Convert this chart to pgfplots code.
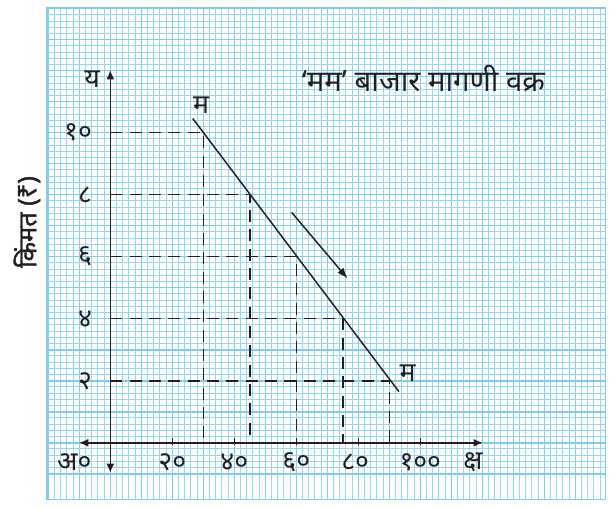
\documentclass[border=0pt]{standalone}
\usepackage{fontspec}
\usepackage{pgfplots}
\pgfplotsset{compat=1.18}
\usetikzlibrary{arrows.meta}
\newfontfamily\deva[Script=Devanagari]{Noto Sans}
\newfontfamily\devab[Script=Devanagari, FakeBold=1.6]{Noto Sans}
\definecolor{gridblue}{RGB}{128,204,240}
\definecolor{gridminor}{RGB}{150,213,243}
\definecolor{ink}{RGB}{35,31,32}
\begin{document}
\begin{tikzpicture}
\begin{axis}[
  scale only axis, width=419pt, height=368.5pt,
  xmin=-20.42, xmax=159.8, ymin=-1.826, ymax=14.02,
  xtick={-20,-10,...,160}, ytick={-1,0,...,14},
  minor x tick num=4, minor y tick num=4,
  grid=both,
  major grid style={draw=gridblue, line width=1.1pt},
  minor grid style={draw=gridminor, line width=0.75pt},
  axis line style={draw=gridblue, line width=1.1pt},
  xticklabels=\empty, yticklabels=\empty,
  major tick length=0pt, minor tick length=0pt,
  tick style={draw=none},
  clip=false,
]
% invisible frame for the page size
\path (axis cs:-35.58,14.28) rectangle (axis cs:163.13,-1.848);
% projection lines
\addplot[ink, line width=1.1pt, dash pattern=on 9pt off 5.5pt] coordinates {(0,10) (30,10) (30,0)};
\addplot[ink, line width=1.1pt, dash pattern=on 9pt off 5.5pt] coordinates {(0,8) (45,8) (45,0)};
\addplot[ink, line width=1.1pt, dash pattern=on 9pt off 5.5pt] coordinates {(0,6) (60,6) (60,0)};
\addplot[ink, line width=1.1pt, dash pattern=on 9pt off 5.5pt] coordinates {(0,4) (75,4) (75,0)};
\addplot[ink, line width=1.1pt, dash pattern=on 9pt off 5.5pt] coordinates {(0,2) (90,2) (90,0)};
% axes
\addplot[ink, line width=1.1pt, {Latex[length=7pt,width=6pt]}-{Latex[length=7pt,width=6pt]}] coordinates {(-10.1,0) (120.2,0)};
\addplot[ink, line width=1.1pt, {Latex[length=7pt,width=6pt]}-{Latex[length=7pt,width=6pt]}] coordinates {(0,-0.97) (0,12.02)};
% x ticks
\addplot[ink, line width=0.9pt] coordinates {(20,-0.07) (20,0.15)};
\addplot[ink, line width=0.9pt] coordinates {(40,-0.07) (40,0.15)};
\addplot[ink, line width=0.9pt] coordinates {(60,-0.07) (60,0.15)};
\addplot[ink, line width=0.9pt] coordinates {(80,-0.07) (80,0.15)};
\addplot[ink, line width=0.9pt] coordinates {(100,-0.07) (100,0.15)};
% demand curve
\addplot[ink, line width=1.1pt] coordinates {(26.6,10.46) (93.1,1.65)};
% direction arrow
\addplot[ink, line width=1.1pt, -{Latex[length=8pt,width=6pt]}] coordinates {(58.5,7.43) (76.5,5.30)};
% labels
\node[ink, font=\deva\fontsize{20}{20}\selectfont] at (axis cs:20,-0.62) {२०};
\node[ink, font=\deva\fontsize{20}{20}\selectfont] at (axis cs:40,-0.62) {४०};
\node[ink, font=\deva\fontsize{20}{20}\selectfont] at (axis cs:60,-0.62) {६०};
\node[ink, font=\deva\fontsize{20}{20}\selectfont] at (axis cs:79,-0.62) {८०};
\node[ink, font=\deva\fontsize{20}{20}\selectfont] at (axis cs:100,-0.62) {१००};
\node[ink, font=\deva\fontsize{20}{20}\selectfont] at (axis cs:-11.6,-0.62) {अ०};
\node[ink, font=\deva\fontsize{20}{20}\selectfont] at (axis cs:117,-0.62) {क्ष};
\node[ink, font=\deva\fontsize{20}{20}\selectfont] at (axis cs:-5.9,11.72) {य};
\node[ink, anchor=east, font=\deva\fontsize{20}{20}\selectfont] at (axis cs:-4.4,10) {१०};
\node[ink, anchor=east, font=\deva\fontsize{20}{20}\selectfont] at (axis cs:-4.4,8) {८};
\node[ink, anchor=east, font=\deva\fontsize{20}{20}\selectfont] at (axis cs:-4.4,6) {६};
\node[ink, anchor=east, font=\deva\fontsize{20}{20}\selectfont] at (axis cs:-4.4,4) {४};
\node[ink, anchor=east, font=\deva\fontsize{20}{20}\selectfont] at (axis cs:-4.4,2) {२};
\node[ink, font=\deva\fontsize{20}{20}\selectfont] at (axis cs:29.3,10.89) {म};
\node[ink, font=\deva\fontsize{20}{20}\selectfont] at (axis cs:95.9,2.24) {म};
\node[ink, font=\deva\fontsize{22}{22}\selectfont] at (axis cs:101,11.76) {‘मम’ बाजार मागणी वक्र};
\node[ink, rotate=90, font=\devab\fontsize{19}{19}\selectfont] at (axis cs:-26.9,7.12) {किंमत (₹)};
\end{axis}
\end{tikzpicture}
\end{document}
